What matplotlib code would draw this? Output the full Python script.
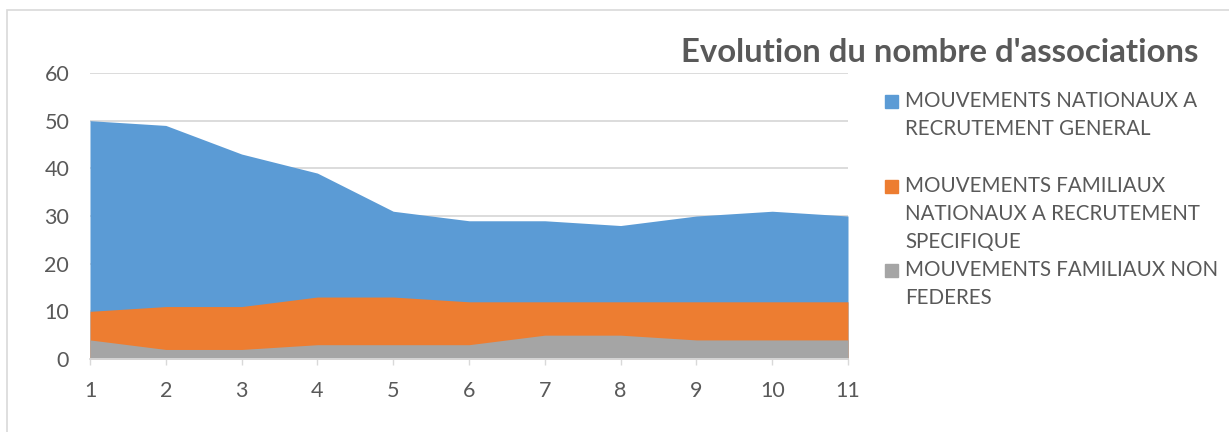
import matplotlib
matplotlib.use('Agg')
from matplotlib import pyplot as plt
from matplotlib.patches import Rectangle

plt.rcParams['font.family'] = ['Lato', 'DejaVu Sans']

# données
annees = [1, 2, 3, 4, 5, 6, 7, 8, 9, 10, 11]
nationaux_general = [50, 49, 43, 39, 31, 29, 29, 28, 30, 31, 30]
familiaux_specifique = [10, 11, 11, 13, 13, 12, 12, 12, 12, 12, 12]
familiaux_non_federes = [4, 2, 2, 3, 3, 3, 5, 5, 4, 4, 4]

series = [
    ("MOUVEMENTS NATIONAUX A\nRECRUTEMENT GENERAL", nationaux_general, '#5B9BD5'),
    ("MOUVEMENTS FAMILIAUX\nNATIONAUX A RECRUTEMENT\nSPECIFIQUE", familiaux_specifique, '#ED7D31'),
    ("MOUVEMENTS FAMILIAUX NON\nFEDERES", familiaux_non_federes, '#A5A5A5'),
]
titre = "Evolution du nombre d'associations"
gris_texte = '#595959'
gris_ligne = '#D9D9D9'

W, H = 1229, 432
fig = plt.figure(figsize=(W / 100, H / 100), dpi=100)
ax = fig.add_axes([90 / W, 1 - 359 / H, (848 - 90) / W, (359 - 73) / H])

# aires superposées (non empilées), la première série au fond
for nom, valeurs, couleur in series:
    ax.fill_between(annees, 0, valeurs, color=couleur, lw=0, zorder=2)

ax.set_xlim(1, 11)
ax.set_ylim(0, 60)
ax.set_xticks(annees)
ax.set_yticks(range(0, 61, 10))
ax.yaxis.grid(True, color=gris_ligne, lw=1.3, zorder=0)
ax.set_axisbelow(True)
for s in ['top', 'right', 'left']:
    ax.spines[s].set_visible(False)
ax.spines['bottom'].set_color(gris_ligne)
ax.spines['bottom'].set_linewidth(1.3)
ax.spines['bottom'].set_zorder(3)
ax.tick_params(axis='x', direction='out', length=4.5, width=1, color=gris_ligne,
               labelsize=15.5, labelcolor=gris_texte, pad=11)
ax.tick_params(axis='y', length=0, labelsize=15.5, labelcolor=gris_texte, pad=15)

# titre
fig.text(1198 / W, 1 - 52 / H, titre, ha='right', va='center', fontsize=23.7,
         fontweight='bold', color=gris_texte)

# légende à droite
y_debut = [101, 186, 270]
for (nom, valeurs, couleur), y0 in zip(series, y_debut):
    fig.patches.append(Rectangle((885 / W, 1 - (y0 + 7) / H), 13 / W, 13 / H,
                                 transform=fig.transFigure, color=couleur))
    for i, ligne in enumerate(nom.split('\n')):
        fig.text(905 / W, 1 - (y0 + 28 * i) / H, ligne, ha='left', va='center',
                 fontsize=14.8, color=gris_texte)

# cadre du graphique
fig.patches.append(Rectangle((7 / W, -0.1), 1.2, 1 - 10 / H + 0.1,
                             transform=fig.transFigure, fill=False,
                             edgecolor=gris_ligne, lw=1.2))

fig.savefig('out.png', dpi=100, facecolor='white')
